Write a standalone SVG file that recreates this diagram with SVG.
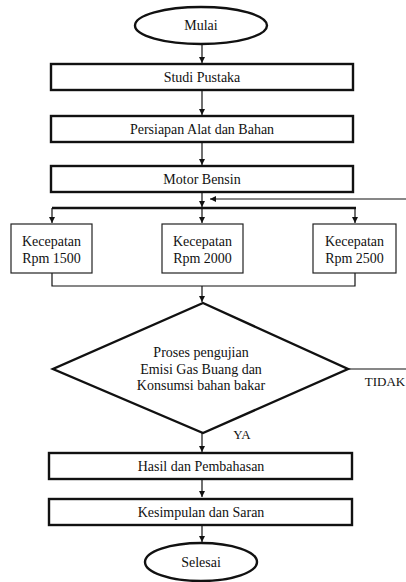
<svg xmlns="http://www.w3.org/2000/svg" width="406" height="582" viewBox="0 0 406 582" font-family="'Liberation Serif', 'DejaVu Serif', serif">
<style>
text{font-family:'Liberation Serif','DejaVu Serif',serif;font-size:14px;fill:#111;text-anchor:middle}
.lbl{font-size:13px}
.thick{fill:#fff;stroke:#111;stroke-width:2.4}
.thin{fill:#fff;stroke:#222;stroke-width:1.2}
.c{fill:none;stroke:#111;stroke-width:1.2}
.bar{fill:none;stroke:#111;stroke-width:2.4}
</style>
<defs>
<marker id="ah" viewBox="0 0 10 10" refX="10" refY="5" markerWidth="6" markerHeight="6" markerUnits="userSpaceOnUse" orient="auto">
<path d="M0,0 L10,5 L0,10 z" fill="#111"/>
</marker>
</defs>
<g id="connectors">
<line class="c" x1="202" y1="44" x2="202" y2="63" marker-end="url(#ah)"/>
<line class="c" x1="202" y1="90" x2="202" y2="115" marker-end="url(#ah)"/>
<line class="c" x1="202" y1="142" x2="202" y2="165" marker-end="url(#ah)"/>
<line class="c" x1="202" y1="192" x2="202" y2="207" marker-end="url(#ah)"/>
<line class="c" x1="406" y1="199" x2="210" y2="199" marker-end="url(#ah)"/>
<line class="bar" x1="52" y1="208" x2="356" y2="208"/>
<line class="c" x1="52" y1="208" x2="52" y2="223" marker-end="url(#ah)"/>
<line class="c" x1="202" y1="208" x2="202" y2="223" marker-end="url(#ah)"/>
<line class="c" x1="355" y1="208" x2="355" y2="223" marker-end="url(#ah)"/>
<polyline class="c" points="52,273 52,286 355,286 355,273"/>
<line class="c" x1="202" y1="286" x2="202" y2="302" marker-end="url(#ah)"/>
<line class="c" x1="348" y1="369" x2="406" y2="369"/>
<line class="c" x1="202" y1="433" x2="202" y2="452" marker-end="url(#ah)"/>
<line class="c" x1="202" y1="479" x2="202" y2="497" marker-end="url(#ah)"/>
<line class="c" x1="202" y1="525" x2="202" y2="542" marker-end="url(#ah)"/>
<text class="lbl" x="385" y="386">TIDAK</text>
<text class="lbl" x="242" y="439">YA</text>
</g>
<g id="mulai">
<ellipse class="thick" cx="201" cy="25.5" rx="66" ry="18.5"/>
<text x="201" y="30">Mulai</text>
</g>
<g id="studi">
<rect class="thick" x="51" y="64" width="302" height="26"/>
<text x="202" y="82">Studi Pustaka</text>
</g>
<g id="persiapan">
<rect class="thick" x="51" y="116" width="302" height="26"/>
<text x="202" y="134">Persiapan Alat dan Bahan</text>
</g>
<g id="motor">
<rect class="thick" x="51" y="166" width="302" height="26"/>
<text x="202" y="184">Motor Bensin</text>
</g>
<g id="rpm1500">
<rect class="thin" x="11" y="224" width="81" height="49"/>
<text x="51.5" y="245.5">Kecepatan</text>
<text x="51.5" y="262.5">Rpm 1500</text>
</g>
<g id="rpm2000">
<rect class="thin" x="162" y="224" width="81" height="49"/>
<text x="202.5" y="245.5">Kecepatan</text>
<text x="202.5" y="262.5">Rpm 2000</text>
</g>
<g id="rpm2500">
<rect class="thin" x="313" y="224" width="83" height="49"/>
<text x="354.5" y="245.5">Kecepatan</text>
<text x="354.5" y="262.5">Rpm 2500</text>
</g>
<g id="proses">
<polygon class="thick" points="203,303 348,369 203,433 53,369"/>
<text x="201" y="357">Proses pengujian</text>
<text x="201" y="373.5">Emisi Gas Buang dan</text>
<text x="201" y="390">Konsumsi bahan bakar</text>
</g>
<g id="hasil">
<rect class="thick" x="49" y="453" width="303" height="26"/>
<text x="201" y="471">Hasil dan Pembahasan</text>
</g>
<g id="kesimpulan">
<rect class="thick" x="49" y="499" width="303" height="26"/>
<text x="201" y="517">Kesimpulan dan Saran</text>
</g>
<g id="selesai">
<ellipse class="thick" cx="201" cy="562" rx="56" ry="19"/>
<text x="201" y="567">Selesai</text>
</g>
</svg>
